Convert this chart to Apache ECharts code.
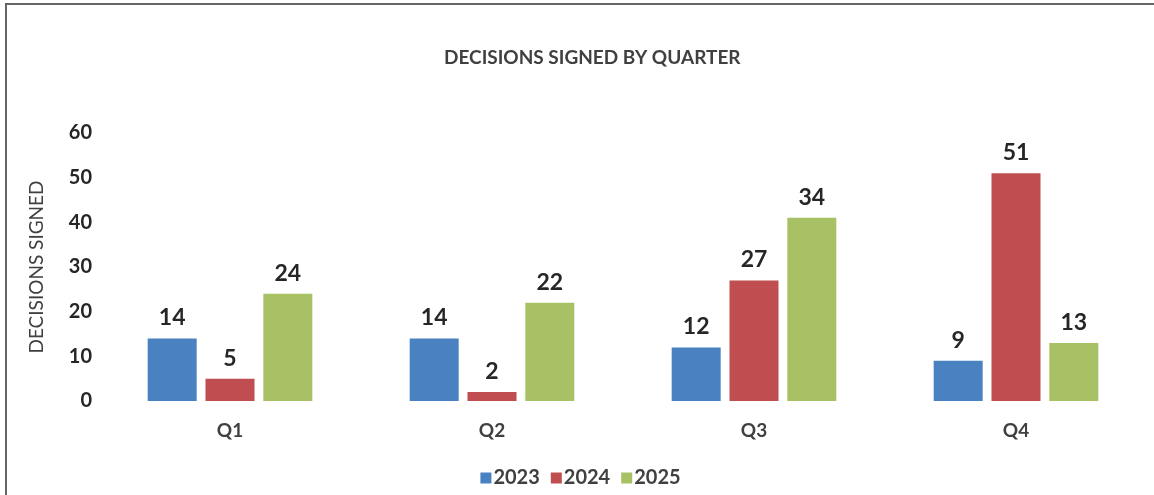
<!DOCTYPE html>
<html>
<head>
<meta charset="utf-8">
<script src="https://cdn.jsdelivr.net/npm/echarts@6/dist/echarts.min.js"></script>
<style>
  html, body { margin: 0; padding: 0; background: #fff; }
  #decisions {
    box-sizing: border-box;
    width: 1149px; height: 492px;
    margin-left: 5px; margin-top: 3px;
    border-top: 2px solid #666; border-left: 2px solid #666;
  }
</style>
</head>
<body>
<div id="decisions"></div>
<script>
// 季度
var quarters = ['Q1', 'Q2', 'Q3', 'Q4'];
// bar heights as drawn
var values2023 = [14, 14, 12, 9];
var values2024 = [5, 2, 27, 51];
var values2025 = [24, 22, 41, 13];
// labels printed above bars
var labels2023 = ['14', '14', '12', '9'];
var labels2024 = ['5', '2', '27', '51'];
var labels2025 = ['24', '22', '34', '13'];
var yTicks = [0, 10, 20, 30, 40, 50, 60];

var font = 'Lato, "Noto Sans", sans-serif';

function makeSeries(name, color, data, labels) {
  return {
    name: name,
    type: 'bar',
    color: color,
    barWidth: 49,
    barGap: '18%',
    data: data,
    label: {
      show: true,
      position: 'top',
      distance: 9,
      fontFamily: font,
      fontSize: 23,
      fontWeight: 'bold',
      color: '#262626',
      formatter: function (p) { return labels[p.dataIndex]; }
    }
  };
}

var chart = echarts.init(document.getElementById('decisions'));
chart.setOption({
  animation: false,
  title: {
    text: 'DECISIONS SIGNED BY QUARTER',
    left: 432,
    top: 38,
    textStyle: { fontFamily: font, fontSize: 19, fontWeight: 'bold', color: '#404040' }
  },
  legend: {
    left: 'center',
    top: 458,
    itemWidth: 11,
    itemHeight: 11,
    itemGap: 11,
    icon: 'rect',
    textStyle: { fontFamily: font, fontSize: 20, fontWeight: 'bold', color: '#404040', padding: [0, 0, 0, -3] }
  },
  grid: { left: 92, right: 7, top: 128, bottom: 94 },
  xAxis: {
    type: 'category',
    data: quarters,
    axisLine: { show: false },
    axisTick: { show: false },
    axisLabel: { margin: 20, fontFamily: font, fontSize: 19, fontWeight: 'bold', color: '#404040' }
  },
  yAxis: {
    type: 'value',
    min: yTicks[0],
    max: yTicks[yTicks.length - 1],
    interval: 10,
    name: 'DECISIONS SIGNED',
    nameLocation: 'middle',
    nameGap: 53,
    nameTextStyle: { fontFamily: font, fontSize: 19, color: '#404040' },
    splitLine: { show: false },
    axisLine: { show: false },
    axisTick: { show: false },
    axisLabel: { margin: 7, fontFamily: font, fontSize: 20, fontWeight: 'bold', color: '#262626' }
  },
  series: [
    makeSeries('2023', '#4A81C1', values2023, labels2023),
    makeSeries('2024', '#C04E50', values2024, labels2024),
    makeSeries('2025', '#A7C164', values2025, labels2025)
  ]
});
</script>
</body>
</html>
